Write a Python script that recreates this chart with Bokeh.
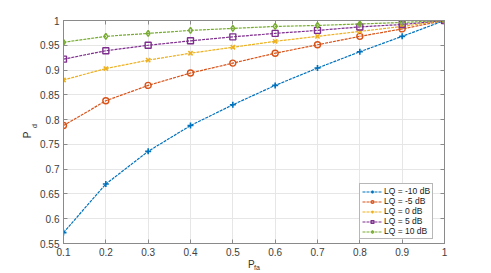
from bokeh.plotting import figure
from bokeh.models import (LinearAxis, FixedTicker, CustomJSTickFormatter, Range1d,
                          Legend, LegendItem)
from bokeh.embed import file_html
from bokeh.resources import INLINE

pfa = [0.1, 0.2, 0.3, 0.4, 0.5, 0.6, 0.7, 0.8, 0.9, 1.0]
pd_m10 = [0.572, 0.670, 0.736, 0.788, 0.830, 0.869, 0.904, 0.937, 0.968, 1.0]
pd_m5 = [0.788, 0.838, 0.869, 0.894, 0.914, 0.934, 0.951, 0.968, 0.983, 1.0]
pd_0 = [0.880, 0.903, 0.920, 0.934, 0.946, 0.958, 0.968, 0.978, 0.988, 1.0]
pd_5 = [0.922, 0.939, 0.950, 0.959, 0.967, 0.974, 0.980, 0.987, 0.992, 1.0]
pd_10 = [0.956, 0.968, 0.974, 0.980, 0.984, 0.988, 0.990, 0.993, 0.996, 1.0]
labels = ["LQ = -10 dB", "LQ = -5 dB", "LQ = 0 dB", "LQ = 5 dB", "LQ = 10 dB"]
colors = ["#0072BD", "#D95319", "#EDB120", "#7E2F8E", "#77AC30"]
markers = ["cross", "circle", "x", "square", "diamond"]
x_ticks = [0.1, 0.2, 0.3, 0.4, 0.5, 0.6, 0.7, 0.8, 0.9, 1.0]
y_ticks = [0.55, 0.6, 0.65, 0.7, 0.75, 0.8, 0.85, 0.9, 0.95, 1.0]
x_label_main, x_label_sub = "P", "fa"
y_label_main, y_label_sub = "P", "d"

series = [pd_m10, pd_m5, pd_0, pd_5, pd_10]

FONT = "Liberation Sans"
AX = "#8a8a8a"
TXT = "#333333"
NB = "\u00a0"

p = figure(width=480, height=273, output_backend="svg", toolbar_location=None,
           x_range=Range1d(0.1, 1.0), y_range=Range1d(0.55, 1.0),
           min_border_left=63, min_border_right=36, min_border_top=20, min_border_bottom=30,
           x_axis_location=None, y_axis_location=None)
p.outline_line_color = AX
p.background_fill_color = "white"
p.border_fill_color = "white"

fmt = CustomJSTickFormatter(code="var s = tick.toFixed(2); s = s.replace(/0+$/, ''); s = s.replace(/\\.$/, ''); return s;")
blank = CustomJSTickFormatter(code="return '';")

def mk_axis(ticks, show_labels):
    ax = LinearAxis(ticker=FixedTicker(ticks=ticks), formatter=fmt if show_labels else blank)
    ax.axis_line_color = AX
    ax.major_tick_line_color = AX
    ax.major_tick_in = 4
    ax.major_tick_out = 0
    ax.minor_tick_line_color = None
    ax.major_label_text_font = FONT
    ax.major_label_text_font_size = "10px"
    ax.major_label_text_color = "#404040"
    ax.major_label_standoff = 4 if show_labels else 0
    ax.axis_label_text_font = FONT
    ax.axis_label_text_font_style = "normal"
    ax.axis_label_text_color = TXT
    return ax

def label_axis(text, size, standoff):
    ax = LinearAxis(ticker=FixedTicker(ticks=[]), formatter=blank)
    ax.axis_line_color = None
    ax.major_tick_line_color = None
    ax.minor_tick_line_color = None
    ax.major_tick_in = 0
    ax.major_tick_out = 0
    ax.major_label_standoff = 0
    ax.axis_label = text
    ax.axis_label_text_font = FONT
    ax.axis_label_text_font_style = "normal"
    ax.axis_label_text_font_size = size
    ax.axis_label_text_color = TXT
    ax.axis_label_standoff = standoff
    return ax

bx = mk_axis(x_ticks, True)
bx.axis_label = x_label_main + NB * 2
bx.axis_label_text_font_size = "10px"
bx.axis_label_standoff = 0
lx = mk_axis(y_ticks, True)
lx.axis_label = NB * 6 + y_label_sub
lx.axis_label_text_font_size = "7px"
lx.axis_label_standoff = -1
tx = mk_axis(x_ticks, False)
rx = mk_axis(y_ticks, False)
p.add_layout(bx, "below")
p.add_layout(label_axis(NB * 3 + x_label_sub, "7px", -9), "below")
p.add_layout(lx, "left")
p.add_layout(label_axis(y_label_main + NB * 2, "10px", -4), "left")
p.add_layout(tx, "above")
p.add_layout(rx, "right")

p.xgrid.ticker = FixedTicker(ticks=x_ticks)
p.ygrid.ticker = FixedTicker(ticks=y_ticks)
p.xgrid.grid_line_color = "#e6e6e6"
p.ygrid.grid_line_color = "#e6e6e6"

items = []
for vals, lab, col, mk in zip(series, labels, colors, markers):
    r1 = p.line(pfa, vals, line_color=col, line_width=1.2, line_dash="3 1")
    if mk in ("cross", "x"):
        r2 = p.scatter(pfa, vals, marker=mk, size=6, line_color=col, line_width=1.6)
    else:
        r2 = p.scatter(pfa, vals, marker=mk, size=6, line_color=col, fill_color=None, line_width=1.4)
    items.append(LegendItem(label=lab, renderers=[r1, r2]))

leg = Legend(items=items, location=(296, 4))
leg.label_text_font = FONT
leg.label_text_font_size = "8.5px"
leg.label_text_color = "#202020"
leg.label_height = 7
leg.glyph_height = 7
leg.glyph_width = 20
leg.spacing = 0
leg.padding = 2
leg.margin = 0
leg.label_standoff = 2
leg.border_line_color = "#707070"
leg.background_fill_alpha = 1
p.add_layout(leg)

open("out.html", "w").write(file_html(p, INLINE))
